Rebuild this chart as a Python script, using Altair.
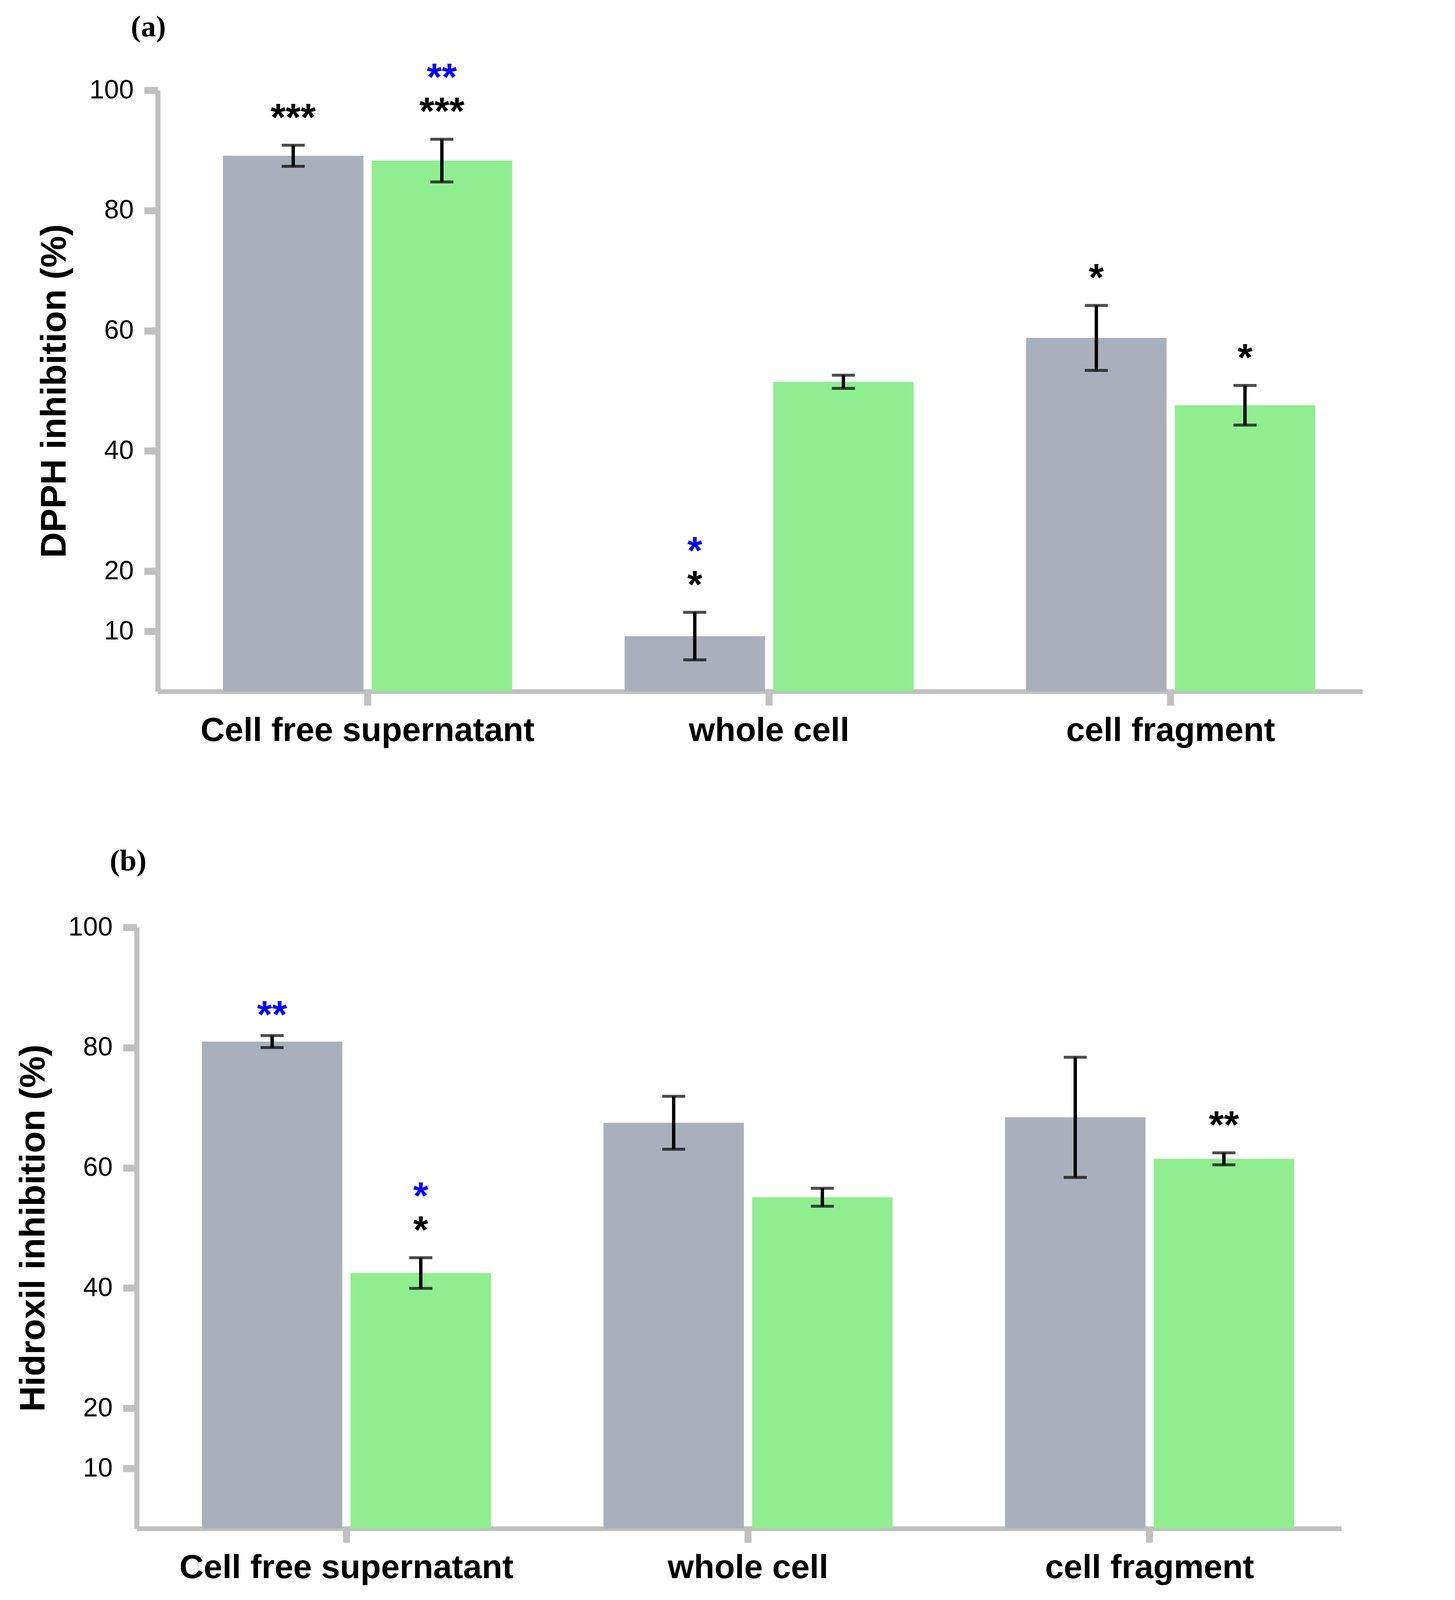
import altair as alt
import pandas as pd

groups = ["Cell free supernatant", "whole cell", "cell fragment"]
series = ["Series 1", "Series 2"]
bar_colors = ["#AAB0BB", "#90EE90"]

# (a) DPPH inhibition (%)
dpph_s1 = [89.1, 9.2, 58.8]
dpph_s1_err = [1.75, 3.95, 5.4]
dpph_s2 = [88.3, 51.5, 47.6]
dpph_s2_err = [3.55, 1.1, 3.3]

# (b) Hidroxil inhibition (%)
hyd_s1 = [81.0, 67.5, 68.4]
hyd_s1_err = [1.0, 4.4, 10.0]
hyd_s2 = [42.5, 55.1, 61.5]
hyd_s2_err = [2.55, 1.5, 1.0]

# significance marks: group, series, text, colour, tier (0 = first row above the error bar,
# 1 = second row, 2 = a single mark sitting close to the error bar)
dpph_ann_group = ["Cell free supernatant", "Cell free supernatant", "Cell free supernatant",
                  "whole cell", "whole cell", "cell fragment", "cell fragment"]
dpph_ann_series = ["Series 1", "Series 2", "Series 2", "Series 1", "Series 1", "Series 1", "Series 2"]
dpph_ann_text = ["***", "***", "**", "*", "*", "*", "*"]
dpph_ann_color = ["black", "black", "blue", "black", "blue", "black", "black"]
dpph_ann_tier = [0, 0, 1, 0, 1, 0, 0]

hyd_ann_group = ["Cell free supernatant", "Cell free supernatant", "Cell free supernatant", "cell fragment"]
hyd_ann_series = ["Series 1", "Series 2", "Series 2", "Series 2"]
hyd_ann_text = ["**", "*", "*", "**"]
hyd_ann_color = ["blue", "black", "blue", "black"]
hyd_ann_tier = [2, 0, 1, 0]

y_ticks = [10, 20, 40, 60, 80, 100]

AXIS_GRAY = "#C0C0C0"
PLOT_W = 3085
PLOT_H = 1539


def build_frame(m1, e1, m2, e2):
    rows = []
    for g, a, ea, b, eb in zip(groups, m1, e1, m2, e2):
        rows.append({"group": g, "series": series[0], "mean": a, "lo": a - ea, "hi": a + ea})
        rows.append({"group": g, "series": series[1], "mean": b, "lo": b - eb, "hi": b + eb})
    return pd.DataFrame(rows)


def panel(m1, e1, m2, e2, ag, as_, at, ac, atier, ytitle, label, title_offset):
    df = build_frame(m1, e1, m2, e2)
    ann = pd.DataFrame({"group": ag, "series": as_, "text": at, "color": ac, "tier": atier})
    ann = ann.merge(df[["group", "series", "hi"]], on=["group", "series"])

    x = alt.X(
        "group:N", sort=groups, title=None,
        scale=alt.Scale(domain=groups, paddingInner=0.28, paddingOuter=0.14, align=0.58),
        axis=alt.Axis(
            labelAngle=0, labelFont="Liberation Sans", labelFontSize=86, labelFontWeight="bold",
            labelColor="black", labelPadding=22, labelLimit=0, domainColor=AXIS_GRAY,
            domainWidth=12, tickColor=AXIS_GRAY, tickWidth=18, tickSize=36, grid=False,
        ),
    )
    xo = alt.XOffset("series:N", sort=series,
                     scale=alt.Scale(domain=series, paddingInner=0.055, paddingOuter=0))

    def y(field):
        return alt.Y(
            field, title=ytitle,
            scale=alt.Scale(domain=[0, 100], nice=False, zero=True),
            axis=alt.Axis(
                values=y_ticks, labelFont="Liberation Sans", labelFontSize=68, labelColor="black",
                labelPadding=27, domainColor=AXIS_GRAY, domainWidth=13, tickColor=AXIS_GRAY,
                tickWidth=18, tickSize=35, grid=False, titleFont="Liberation Sans",
                titleFontSize=91, titleFontWeight="bold", titleColor="black", titlePadding=42,
            ),
        )

    base = alt.Chart(df)
    bars = base.mark_bar().encode(
        x=x, xOffset=xo, y=y("mean:Q"),
        color=alt.Color("series:N", scale=alt.Scale(domain=series, range=bar_colors), legend=None),
    )
    rule = base.mark_rule(color="black", strokeWidth=8.5).encode(
        x=x, xOffset=xo, y=y("lo:Q"), y2="hi:Q")
    cap_lo = base.mark_tick(color="black", thickness=7.5, size=59).encode(x=x, xOffset=xo, y=y("lo:Q"))
    cap_hi = base.mark_tick(color="black", thickness=7.5, size=59).encode(x=x, xOffset=xo, y=y("hi:Q"))

    layers = [bars, rule, cap_lo, cap_hi]
    tier_dy = {0: -38, 1: -125, 2: -20}
    for (tier, col), sub in ann.groupby(["tier", "color"]):
        layers.append(
            alt.Chart(sub).mark_text(
                font="Liberation Sans", fontSize=99, fontWeight="bold", baseline="alphabetic",
                align="center", dy=tier_dy[tier], color="#0000FF" if col == "blue" else "black",
            ).encode(x=x, xOffset=xo, y=y("hi:Q"), text="text:N")
        )

    return alt.layer(*layers).properties(
        width=PLOT_W, height=PLOT_H,
        title=alt.TitleParams(
            label, anchor="start", frame="group", dx=-69, offset=title_offset,
            font="Liberation Serif", fontSize=77, fontWeight="bold", color="black",
        ),
    )


panel_a = panel(dpph_s1, dpph_s1_err, dpph_s2, dpph_s2_err,
                dpph_ann_group, dpph_ann_series, dpph_ann_text, dpph_ann_color, dpph_ann_tier,
                "DPPH inhibition (%)", "(a)", 43)
panel_b = panel(hyd_s1, hyd_s1_err, hyd_s2, hyd_s2_err,
                hyd_ann_group, hyd_ann_series, hyd_ann_text, hyd_ann_color, hyd_ann_tier,
                "Hidroxil inhibition (%)", "(b)", 96)


def spacer(w):
    # empty, invisible cell: panel (a) sits a little right of panel (b) in the original figure
    return alt.Chart(pd.DataFrame({"v": [0]})).mark_point(opacity=0, size=1).encode(
        x=alt.value(0), y=alt.value(0)).properties(width=w, height=10)


row_a = alt.hconcat(spacer(55), panel_a, spacing=0)
row_b = alt.hconcat(spacer(1), panel_b, spacing=0)

chart = alt.vconcat(row_a, row_b, spacing=253).properties(
    padding={"left": 30, "top": 23, "right": 5, "bottom": 5},
    background="white",
).configure_view(stroke=None)

chart.save("out.html", embed_options={"renderer": "svg", "actions": False})
